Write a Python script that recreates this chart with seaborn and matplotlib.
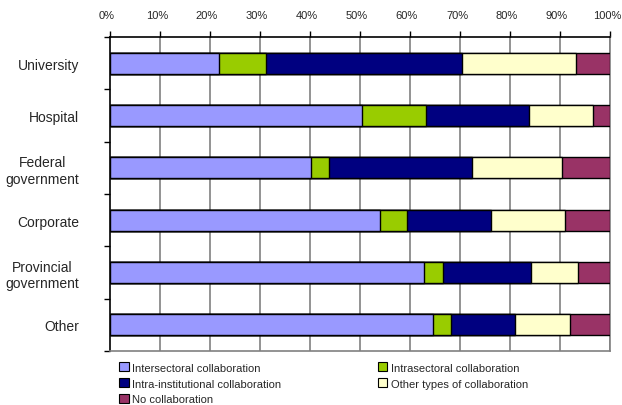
import numpy as np
import pandas as pd
import matplotlib
matplotlib.use("Agg")
import matplotlib.pyplot as plt
import matplotlib.transforms as mtransforms
import seaborn as sns
from matplotlib.patches import Patch

sns.set_style("white")
plt.rcParams["font.family"] = ["Liberation Sans", "DejaVu Sans"]

categories = ["University", "Hospital", "Federal\ngovernment", "Corporate",
              "Provincial\ngovernment", "Other"]
series_names = ["Intersectoral collaboration", "Intrasectoral collaboration",
                "Intra-institutional collaboration", "Other types of collaboration",
                "No collaboration"]
intersectoral = [21.8, 50.4, 40.1, 54.0, 62.7, 64.5]
intrasectoral = [9.3, 12.7, 3.7, 5.4, 3.8, 3.6]
intra_institutional = [39.2, 20.6, 28.5, 16.7, 17.7, 12.8]
other_types = [22.8, 12.9, 18.0, 14.8, 9.3, 11.0]
no_collab = [6.9, 3.4, 9.7, 9.1, 6.5, 8.1]
colors = ["#9999FF", "#99CC00", "#000080", "#FFFFCC", "#993366"]
xtick_labels = [f"{v}%" for v in range(0, 101, 10)]

values = np.array([intersectoral, intrasectoral, intra_institutional,
                   other_types, no_collab])
cumulative = np.cumsum(values, axis=0)

fig = plt.figure(figsize=(6.22, 4.06), dpi=100)
ax = fig.add_axes([110 / 622, 1 - 352 / 406, 500 / 622, 314 / 406])

# vertical grid lines behind bars
for x in range(10, 101, 10):
    ax.axvline(x, color="#808080", lw=1.2, zorder=0)

# stacked bars: draw cumulative totals from the outermost segment inward
for i in range(len(series_names) - 1, -1, -1):
    df = pd.DataFrame({"category": categories, "value": cumulative[i]})
    sns.barplot(data=df, x="value", y="category", orient="h", color=colors[i],
                width=0.4, edgecolor="black", linewidth=1.0, saturation=1,
                ax=ax, zorder=2 + (len(series_names) - i))

ax.set_xlim(0, 100)
ax.set_ylim(5.5, -0.5)
ax.set_xlabel("")
ax.set_ylabel("")

ax.xaxis.tick_top()
ax.set_xticks(range(0, 101, 10))
ax.set_xticklabels(xtick_labels, fontsize=8)
ax.tick_params(axis="x", direction="out", length=4, width=1, color="black",
               pad=8, top=True, bottom=False)
shift = mtransforms.ScaledTranslation(-3 / 100, 0, fig.dpi_scale_trans)
for lbl in ax.get_xticklabels():
    lbl.set_transform(lbl.get_transform() + shift)

ax.set_yticks(range(len(categories)))
ax.set_yticklabels(categories, fontsize=10, ha="right", multialignment="center")
ax.tick_params(axis="y", which="major", length=0, pad=22)
ax.set_yticks(np.arange(-0.5, 6, 1), minor=True)
ax.tick_params(axis="y", which="minor", direction="out", length=4, width=1,
               color="black", left=True)

for side in ["top", "left"]:
    ax.spines[side].set_color("black")
    ax.spines[side].set_linewidth(1.2)
for side in ["bottom", "right"]:
    ax.spines[side].set_color("#808080")
    ax.spines[side].set_linewidth(1.2)

order = [0, 2, 4, 1, 3]
handles = [Patch(facecolor=colors[i], edgecolor="black", linewidth=0.8,
                 label=series_names[i]) for i in order]
fig.legend(handles=handles, loc="upper left", bbox_to_anchor=(115 / 622, 1 - 359 / 406),
           ncol=2, frameon=False, fontsize=8, handlelength=0.85, handleheight=0.85,
           handletextpad=0.3, labelspacing=0.5, columnspacing=8.7, borderaxespad=0)

fig.savefig("out.png", dpi=100)
